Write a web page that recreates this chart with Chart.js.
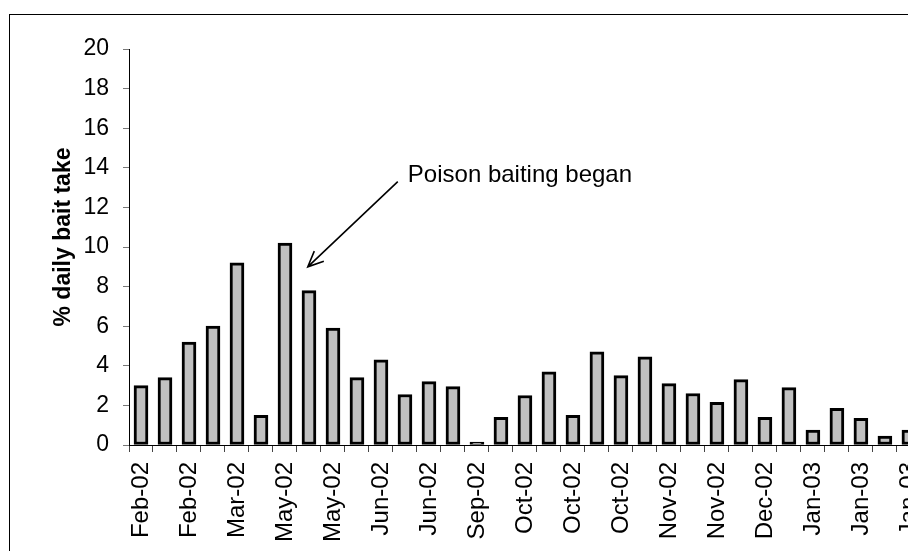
<!DOCTYPE html>
<html>
<head>
<meta charset="utf-8">
<script src="https://cdn.jsdelivr.net/npm/chart.js@4"></script>
<style>
    html, body { margin: 0; padding: 0; background: #fff; overflow: hidden; }
    #frame {
        position: absolute; left: 9px; top: 14px;
        width: 1000px; height: 700px;
        border: 1px solid #000; box-sizing: border-box;
    }
    #wrap { position: absolute; left: 0; top: 0; }
</style>
</head>
<body>
<div id="frame"></div>
<div id="wrap"><canvas id="baitChart" width="948" height="600"></canvas></div>
<script>
// Tick labels shown under every second bar
const tickLabels = ['Feb-02', 'Feb-02', 'Mar-02', 'May-02', 'May-02', 'Jun-02', 'Jun-02', 'Sep-02',
    'Oct-02', 'Oct-02', 'Oct-02', 'Nov-02', 'Nov-02', 'Dec-02', 'Jan-03', 'Jan-03', 'Jan-03'];

// % daily bait take, one value per bar
const baitTake = [3.0, 3.4, 5.2, 6.0, 9.2, 1.5, 10.2, 7.8, 5.9, 3.4, 4.3, 2.55, 3.2, 2.95, 0.15,
    1.4, 2.5, 3.7, 1.5, 4.7, 3.5, 4.45, 3.1, 2.6, 2.15, 3.3, 1.4, 2.9, 0.75, 1.85, 1.35, 0.45, 0.75];

const yTicks = [0, 2, 4, 6, 8, 10, 12, 14, 16, 18, 20];

// Annotation: arrow from tail to tip, in (bar index, value) units
const noteText = 'Poison baiting began';
const arrowTail = { x: 10.7, y: 13.3 };
const arrowTip = { x: 6.95, y: 9.0 };
const notePos = { x: 11.12, y: 13.6 };

const categories = baitTake.map((v, i) => (i % 2 === 0 ? tickLabels[i / 2] : ''));

const FONT = "'Liberation Sans', Arial, sans-serif";

// draws the arrow, the note and the y title
const notePlugin = {
    id: 'notePlugin',
    afterDraw(chart) {
        const ctx = chart.ctx;
        const xs = chart.scales.x;
        const ys = chart.scales.y;
        const tx = xs.getPixelForValue(arrowTail.x), ty = ys.getPixelForValue(arrowTail.y);
        const hx = xs.getPixelForValue(arrowTip.x), hy = ys.getPixelForValue(arrowTip.y);
        ctx.save();
        ctx.strokeStyle = '#000';
        ctx.lineWidth = 1.6;
        ctx.beginPath();
        ctx.moveTo(tx, ty);
        ctx.lineTo(hx, hy);
        const ang = Math.atan2(hy - ty, hx - tx);
        const len = 17, spread = 0.42;
        ctx.moveTo(hx - len * Math.cos(ang - spread), hy - len * Math.sin(ang - spread));
        ctx.lineTo(hx, hy);
        ctx.lineTo(hx - len * Math.cos(ang + spread), hy - len * Math.sin(ang + spread));
        ctx.stroke();

        ctx.fillStyle = '#000';
        ctx.font = '24px ' + FONT;
        ctx.textAlign = 'left';
        ctx.textBaseline = 'middle';
        ctx.fillText(noteText, xs.getPixelForValue(notePos.x), ys.getPixelForValue(notePos.y));

        // y axis title
        const area = chart.chartArea;
        ctx.translate(64, (area.top + area.bottom) / 2 - 10);
        ctx.rotate(-Math.PI / 2);
        ctx.font = 'bold 23px ' + FONT;
        ctx.textAlign = 'center';
        ctx.fillText('% daily bait take', 0, 0);
        ctx.restore();
    }
};

const ctx = document.getElementById('baitChart').getContext('2d');
const baitChart = new Chart(ctx, {
    type: 'bar',
    data: {
        labels: categories,
        datasets: [{
            label: '% daily bait take',
            data: baitTake,
            backgroundColor: '#c0c0c0',
            borderColor: '#000',
            borderWidth: 3,
            borderSkipped: false,
            barThickness: 14
        }]
    },
    options: {
        responsive: false,
        animation: false,
        layout: { padding: { left: 0, top: 49, right: 19, bottom: 0 } },
        plugins: { legend: { display: false }, tooltip: { enabled: false } },
        scales: {
            x: {
                offset: true,
                afterFit: (scale) => { scale.height = 155; },
                grid: { offset: true, drawOnChartArea: false, drawTicks: true, tickLength: 7, color: '#444' },
                border: { color: '#000', width: 1 },
                ticks: {
                    autoSkip: false,
                    minRotation: 90,
                    maxRotation: 90,
                    padding: 10,
                    color: '#000',
                    font: { family: FONT, size: 24 },
                    callback: (v, i) => categories[i]
                }
            },
            y: {
                min: 0,
                max: 20,
                afterFit: (scale) => { scale.width = 129; },
                afterBuildTicks: (scale) => { scale.ticks = yTicks.map(v => ({ value: v })); },
                grid: { drawOnChartArea: false, drawTicks: true, tickLength: 6, color: '#777' },
                border: { color: '#000', width: 1 },
                ticks: {
                    padding: 14,
                    color: '#000',
                    font: { family: FONT, size: 23 }
                }
            }
        }
    },
    plugins: [notePlugin]
});
</script>
</body>
</html>
